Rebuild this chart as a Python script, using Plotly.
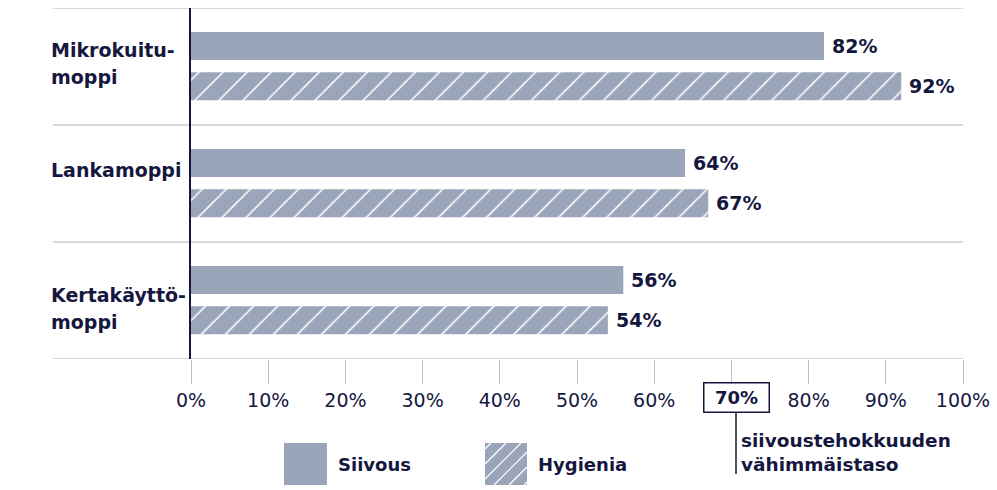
import plotly.graph_objects as go

# ---- data ----
categories = ["Mikrokuitu-<br>moppi", "Lankamoppi", "Kertakäyttö-<br>moppi"]
siivous = [82, 64, 56]
hygienia = [92, 67, 54]
tick_values = [0, 10, 20, 30, 40, 50, 60, 70, 80, 90, 100]
tick_labels = ["0%", "10%", "20%", "30%", "40%", "50%", "60%", "", "80%", "90%", "100%"]
threshold = 70
threshold_label = "70%"
threshold_text = "siivoustehokkuuden<br>vähimmäistaso"
series_names = ["Siivous", "Hygienia"]

# ---- style ----
W, H = 997, 490
ML, MR, MT, MB = 191, 34, 8, 131
PW, PH = W - ML - MR, H - MT - MB
BAR = "#9ba5b9"
NAVY = "#15173f"
GRID = "#c9cbd9"
TICK = "#b9bdcc"
FONT = "DejaVu Sans"
BW = 0.239
OFF_S, OFF_H = -0.295, 0.05
LINE_GAP = 27
LABEL_SHIFT = [3, 14, -8]   # vertical nudge of category labels (px, up positive)


def px_x(p):
    return (p - ML) / PW


def px_y(p):
    return (MT + PH - p) / PH


ypos = list(range(len(categories)))

fig = go.Figure()
fig.add_trace(go.Bar(
    x=siivous, y=ypos, orientation="h", name=series_names[0],
    width=BW, offset=OFF_S, marker=dict(color=BAR, line=dict(width=0)),
    showlegend=False, hoverinfo="skip"))
fig.add_trace(go.Bar(
    x=hygienia, y=ypos, orientation="h", name=series_names[1],
    width=BW, offset=OFF_H,
    marker=dict(color=BAR, line=dict(width=0),
                pattern=dict(shape="/", fgcolor="white", bgcolor=BAR,
                             size=17, solidity=0.09, fillmode="replace")),
    showlegend=False, hoverinfo="skip"))

annotations = []
shapes = []

# value labels
for vals, off in ((siivous, OFF_S), (hygienia, OFF_H)):
    for i, v in enumerate(vals):
        annotations.append(dict(
            x=v, y=i + off + BW / 2, xref="x", yref="y", text=f"<b>{v}%</b>",
            showarrow=False, xanchor="left", yanchor="middle", xshift=6,
            font=dict(family=FONT, size=19, color=NAVY)))

# category labels (each line placed separately for looser line spacing)
for i, c in enumerate(categories):
    lines = c.split("<br>")
    n = len(lines)
    for j, ln in enumerate(lines):
        annotations.append(dict(
            x=px_x(49), y=i, xref="paper", yref="y", text=f"<b>{ln}</b>",
            showarrow=False, xanchor="left", yanchor="middle", align="left",
            yshift=((n - 1) / 2 - j) * LINE_GAP + LABEL_SHIFT[i],
            font=dict(family=FONT, size=19, color=NAVY)))

# separator lines
for b in [-0.5 + k for k in range(len(categories) + 1)]:
    shapes.append(dict(type="line", xref="paper", yref="y",
                       x0=px_x(53), x1=1, y0=b, y1=b,
                       line=dict(color=GRID, width=1.5), layer="below"))

# threshold box + callout
annotations.append(dict(
    x=threshold, y=px_y(397), xref="x", yref="paper", text=f"<b>{threshold_label}</b>",
    showarrow=False, xanchor="center", yanchor="middle", xshift=5,
    width=60, height=24, borderpad=2, bordercolor=NAVY, borderwidth=1.5,
    font=dict(family=FONT, size=18, color=NAVY)))
shapes.append(dict(type="line", xref="paper", yref="paper",
                   x0=px_x(736), x1=px_x(736), y0=px_y(412), y1=px_y(474),
                   line=dict(color=NAVY, width=1.5)))
annotations.append(dict(
    x=px_x(739), y=px_y(452), xref="paper", yref="paper", text=f"<b>{threshold_text}</b>",
    showarrow=False, xanchor="left", yanchor="middle", align="left",
    font=dict(family=FONT, size=18.5, color=NAVY)))

# legend
sw = [(284, 443, 327, 485), (485, 443, 527, 485)]
for k, (x0, y0, x1, y1) in enumerate(sw):
    shapes.append(dict(type="rect", xref="paper", yref="paper",
                       x0=px_x(x0), x1=px_x(x1), y0=px_y(y1), y1=px_y(y0),
                       fillcolor=BAR, line=dict(width=0)))
    if k == 1:
        step = 15
        c = x0 + y0 + 6
        while c < x1 + y1:
            xa = max(x0, c - y1)
            xb = min(x1, c - y0)
            if xb > xa:
                shapes.append(dict(type="line", xref="paper", yref="paper",
                                   x0=px_x(xa), y0=px_y(c - xa),
                                   x1=px_x(xb), y1=px_y(c - xb),
                                   line=dict(color="white", width=1.2)))
            c += step
    annotations.append(dict(
        x=px_x(x1 + 9), y=px_y((y0 + y1) / 2), xref="paper", yref="paper",
        text=f"<b>{series_names[k]}</b>", showarrow=False,
        xanchor="left", yanchor="middle",
        font=dict(family=FONT, size=18, color=NAVY)))

fig.update_layout(
    width=W, height=H,
    margin=dict(l=ML, r=MR, t=MT, b=MB),
    paper_bgcolor="white", plot_bgcolor="white",
    barmode="overlay",
    font=dict(family=FONT, color=NAVY),
    xaxis=dict(range=[0, 100], tickvals=tick_values, ticktext=tick_labels,
               ticks="outside", ticklen=24, tickcolor=TICK, tickwidth=1.2,
               showgrid=False, zeroline=False, showline=False,
               tickfont=dict(family=FONT, size=19, color=NAVY), fixedrange=True),
    yaxis=dict(range=[len(categories) - 0.5, -0.5], showticklabels=False,
               showgrid=False, zeroline=False, showline=True,
               linecolor=NAVY, linewidth=1.5, ticks="", fixedrange=True),
    annotations=annotations, shapes=shapes,
)

fig.write_html("out.html", config={"displayModeBar": False},
               post_script="document.body.style.margin='0';")
